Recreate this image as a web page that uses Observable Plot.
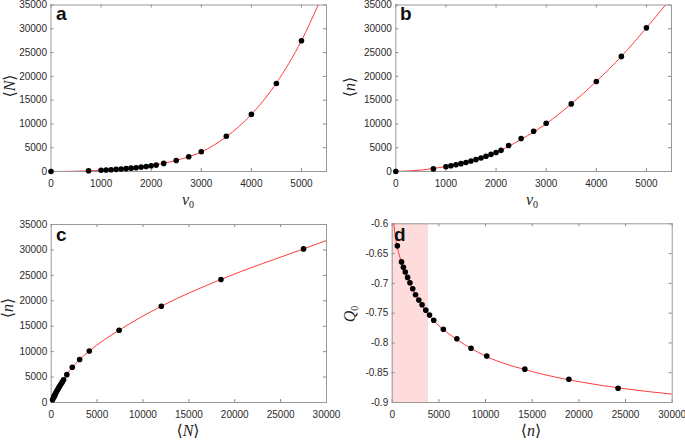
<!DOCTYPE html>
<html><head><meta charset="utf-8">
<script src="https://cdn.jsdelivr.net/npm/d3@7"></script>
<script src="https://cdn.jsdelivr.net/npm/@observablehq/plot@0.6"></script>
<style>
body{margin:0;background:#fff;}
#root{position:relative;width:685px;height:440px;overflow:hidden;background:#fff;}
.panel{position:absolute;}
.lab{position:absolute;font-family:"Liberation Serif","DejaVu Serif",serif;font-size:16px;color:#222;white-space:nowrap;line-height:1;transform:translate(-50%,-50%);}
.lab.y{transform:translate(-50%,-50%) rotate(-90deg);}
.lab sub{font-size:10px;vertical-align:-3px;font-style:normal;}
.letter{position:absolute;font-family:"Liberation Sans",Arial,sans-serif;font-weight:bold;font-size:19px;color:#111;line-height:1;}
</style></head><body><div id="root"></div>
<script>
// ---- data ----
const v0    = [0, 750, 1000, 1100, 1200, 1300, 1400, 1500, 1600, 1700, 1800, 1900, 2000, 2100, 2250, 2500, 2750, 3000, 3500, 4000, 4500, 5000];
const meanN = [0, 150, 270, 320, 380, 450, 520, 600, 700, 800, 920, 1050, 1200, 1350, 1700, 2300, 3100, 4150, 7400, 12000, 18500, 27500];
const meann = [0, 550, 1000, 1200, 1400, 1650, 1900, 2200, 2500, 2850, 3200, 3600, 4000, 4450, 5480, 6930, 8450, 10130, 14210, 18930, 24200, 30200];

const dN  = [550, 1000, 1200, 1400, 1650, 1900, 2200, 2500, 2850, 3200, 3600, 4000, 4450, 5480, 6930, 8450, 10130, 14210, 18930, 24200];
const dQ0 = [-0.637, -0.664, -0.673, -0.681, -0.690, -0.699, -0.709, -0.719, -0.728, -0.736, -0.745, -0.753, -0.762, -0.777, -0.793, -0.809, -0.822, -0.844, -0.861, -0.876];

// fitted red curves
const fitAx = [0, 500, 1000, 1500, 2000, 2500, 3000, 3500, 4000, 4500, 5000, 5333];
const fitAy = [0, 60, 250, 600, 1250, 2350, 4100, 7300, 12000, 18600, 27500, 35000];
const fitBx = [0, 500, 1000, 1500, 2000, 2500, 3000, 3500, 4000, 4500, 5000, 5380];
const fitBy = [0, 300, 1050, 2250, 4000, 6750, 10050, 14210, 18930, 24200, 30200, 35000];
const fitCx = [150, 270, 450, 700, 1050, 1350, 1700, 2300, 3100, 4150, 7400, 12000, 18500, 27500, 30000];
const fitCy = [550, 1000, 1650, 2500, 3600, 4450, 5480, 6930, 8450, 10130, 14210, 18930, 24200, 30200, 31850];
const fitDx = [180, 300, 500, 750, 1000, 1500, 2000, 3000, 4000, 5000, 7000, 10000, 15000, 20000, 25000, 30000];
const fitDy = [-0.6, -0.617, -0.636, -0.652, -0.665, -0.686, -0.704, -0.733, -0.755, -0.771, -0.795, -0.822, -0.848, -0.865, -0.877, -0.886];

const shadeD = [0, 3900];

const ticksV0 = [0, 1000, 2000, 3000, 4000, 5000];
const ticks30k = [0, 5000, 10000, 15000, 20000, 25000, 30000];
const ticks35k = [0, 5000, 10000, 15000, 20000, 25000, 30000, 35000];
const ticksQ = [-0.9, -0.85, -0.8, -0.75, -0.7, -0.65, -0.6];

// ---- helpers ----
const zip = (xs, ys) => xs.map((x, i) => ({x, y: ys[i]}));
const RED = "#ff3b3b";
const root = document.getElementById("root");

function panel({left, top, width, height, mL, mR, mT, mB, xDomain, yDomain, xTicks, yTicks, pts, fit, under = []}) {
  const fw = width - mL - mR, fh = height - mT - mB, tk = 3;
  const svg = Plot.plot({
    width, height, marginLeft: mL, marginRight: mR, marginTop: mT, marginBottom: mB,
    x: {domain: xDomain}, y: {domain: yDomain},
    style: {fontFamily: '"Liberation Sans", Arial, sans-serif', fontSize: "10px", color: "#2a2a2a", background: "transparent", overflow: "visible"},
    marks: [
      ...under,
      Plot.tickX(xTicks, {x: d => d, insetTop: fh - tk, stroke: "#888"}),
      Plot.tickX(xTicks, {x: d => d, insetBottom: fh - tk, stroke: "#888"}),
      Plot.tickY(yTicks, {y: d => d, insetRight: fw - tk, stroke: "#888"}),
      Plot.tickY(yTicks, {y: d => d, insetLeft: fw - tk, stroke: "#888"}),
      Plot.frame({stroke: "#999"}),
      Plot.axisX(xTicks, {tickSize: 0, tickPadding: 8, tickFormat: d => String(d), label: null}),
      Plot.axisY(yTicks, {tickSize: 0, tickPadding: 4, tickFormat: d => String(d), label: null}),
      Plot.line(fit, {x: "x", y: "y", stroke: RED, strokeWidth: 1, curve: "monotone-x", clip: true}),
      Plot.dot(pts, {x: "x", y: "y", r: 2.8, fill: "#000", stroke: "none"})
    ]
  });
  svg.classList.add("panel");
  svg.style.left = left + "px";
  svg.style.top = top + "px";
  root.appendChild(svg);
}

function label(html, x, y, cls) {
  const el = document.createElement("div");
  el.className = cls;
  el.innerHTML = html;
  el.style.left = x + "px";
  el.style.top = y + "px";
  root.appendChild(el);
}

// a
panel({left: 0, top: 0, width: 340, height: 205, mL: 50.5, mR: 14, mT: 4.5, mB: 34,
  xDomain: [0, 5500], yDomain: [0, 35000], xTicks: ticksV0, yTicks: ticks35k,
  pts: zip(v0, meanN), fit: zip(fitAx, fitAy)});
// b
panel({left: 340, top: 0, width: 345, height: 205, mL: 55.3, mR: 14, mT: 4.5, mB: 34,
  xDomain: [0, 5500], yDomain: [0, 35000], xTicks: ticksV0, yTicks: ticks35k,
  pts: zip(v0, meann), fit: zip(fitBx, fitBy)});
// c
panel({left: 0, top: 215, width: 340, height: 225, mL: 50.7, mR: 14, mT: 9, mB: 38,
  xDomain: [0, 30000], yDomain: [0, 35000], xTicks: ticks30k, yTicks: ticks35k,
  pts: zip(meanN.slice(1), meann.slice(1)), fit: zip(fitCx, fitCy)});
// d
panel({left: 340, top: 215, width: 345, height: 225, mL: 51.7, mR: 13.3, mT: 8.3, mB: 38,
  xDomain: [0, 30000], yDomain: [-0.9, -0.6], xTicks: ticks30k, yTicks: ticksQ,
  pts: zip(dN, dQ0), fit: zip(fitDx, fitDy),
  under: [Plot.rect([{x1: shadeD[0], x2: shadeD[1]}], {x1: "x1", x2: "x2", y1: -0.9, y2: -0.6, fill: "#ffdcdc"})]});

// axis titles
label("⟨<i>N</i>⟩", 10, 86, "lab y");
label("⟨<i>n</i>⟩", 350, 87, "lab y");
label("⟨<i>n</i>⟩", 8, 308, "lab y");
label("<i>Q</i><sub>0</sub>", 351, 314, "lab y");
label("<i>v</i><sub>0</sub>", 188, 201, "lab");
label("<i>v</i><sub>0</sub>", 532, 201, "lab");
label("⟨<i>N</i>⟩", 188, 431, "lab");
label("⟨<i>n</i>⟩", 531, 431, "lab");

// panel letters
[["a", 56, 4], ["b", 400, 4], ["c", 56, 225], ["d", 394, 225]].forEach(([t, x, y]) => {
  const el = document.createElement("div");
  el.className = "letter";
  el.textContent = t;
  el.style.left = x + "px";
  el.style.top = y + "px";
  root.appendChild(el);
});
</script></body></html>
